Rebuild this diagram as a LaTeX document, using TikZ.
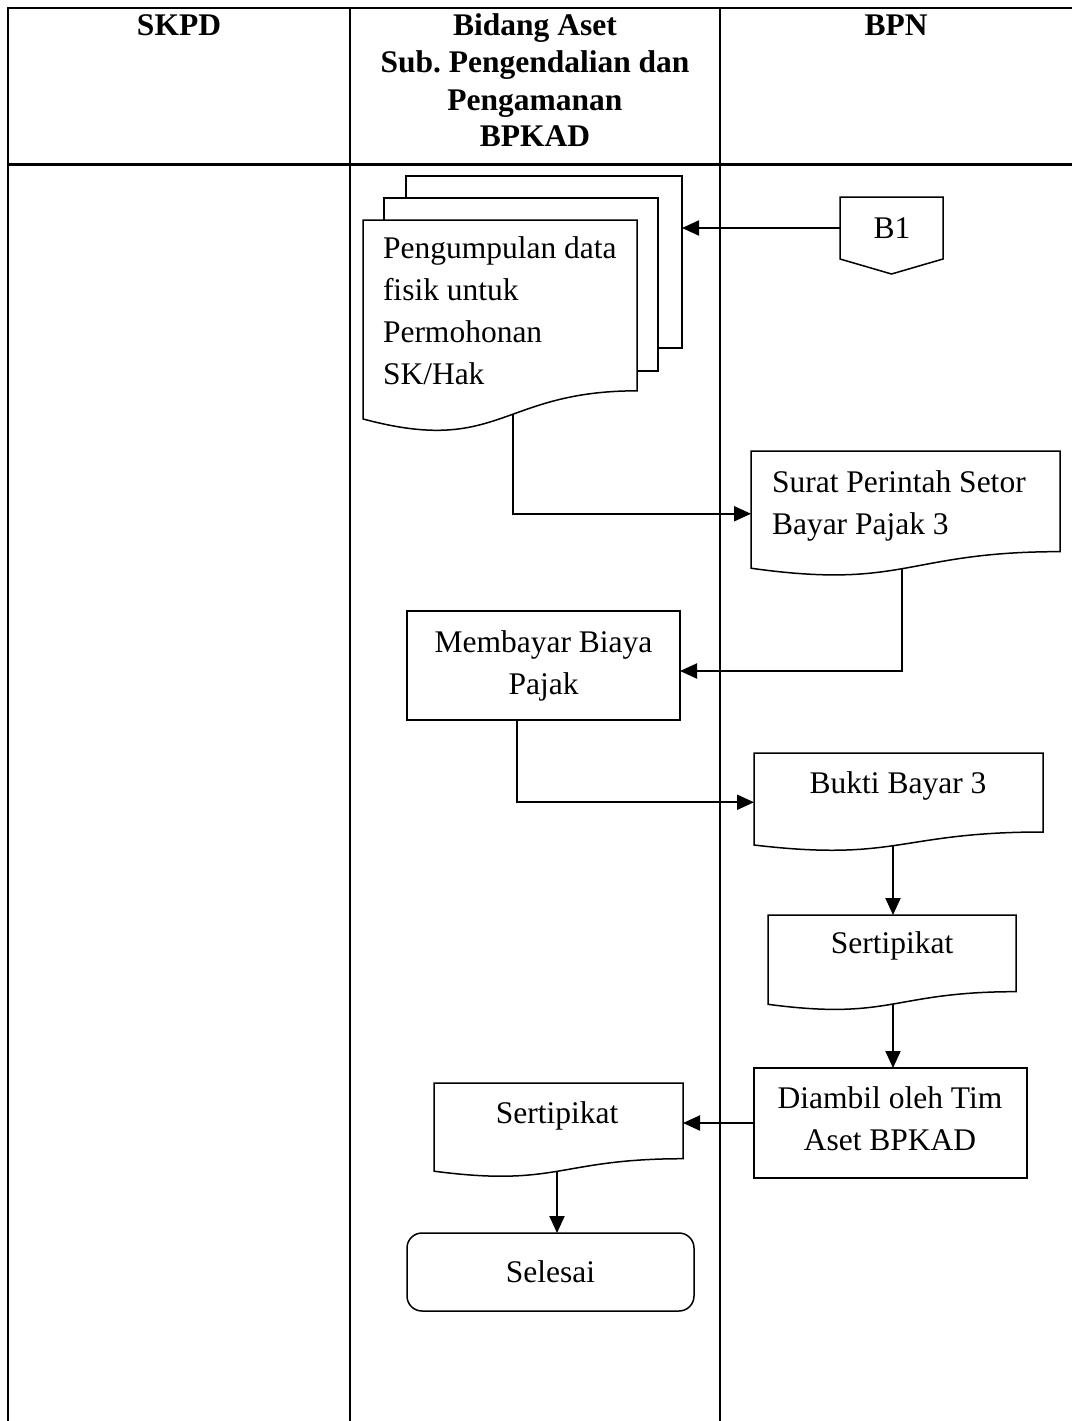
\documentclass[tikz,border=0pt]{standalone}
\usepackage{fontspec}
\setmainfont{Liberation Serif}
\usetikzlibrary{arrows.meta,calc}
\frenchspacing
\newcommand{\txtlines}[2]{\begin{tabular}[t]{@{}#1@{}}#2\end{tabular}}
\newcommand{\docoutline}[1]{%
  \draw[shapeline] (#1.north west) -- (#1.north east)
    -- ($(#1.north east)!0.802!(#1.south east)$)
    .. controls ($(#1.north)!0.802!(#1.south)$) and ($(#1.north)!1.1075!(#1.south)$)
    .. ($(#1.north west)!0.934!(#1.south west)$) -- cycle;}
\begin{document}
\begin{tikzpicture}[x=1pt,y=-1pt,
  geom/.style={draw=none,inner sep=0pt,outer sep=0pt,anchor=north west},
  shapeline/.style={draw=black,line width=1.5pt,fill=white},
  boxnode/.style={geom,shapeline},
  conn/.style={line width=2pt,-{Triangle[length=17pt,width=15pt]}},
  tableline/.style={line width=2pt},
  txt/.style={inner sep=0pt,outer sep=0pt,font=\fontsize{31.5}{42}\selectfont},
  head/.style={inner sep=0pt,outer sep=0pt,font=\fontsize{31.5}{37}\selectfont\bfseries}]
\useasboundingbox (0,0) rectangle (1072,1421);
% table
\draw[line width=2.5pt] (8,8) -- (1072,8);
\draw[line width=3pt] (8,164) -- (1072,164);
\draw[tableline] (8,7) -- (8,1421);
\draw[tableline] (350,8) -- (350,1421);
\draw[tableline] (720,8) -- (720,1421);
% header
\node[head,anchor=base] (h1) at (179,36) {SKPD};
\node[head,anchor=base] (h2) at (535,36) {\txtlines{c}{Bidang Aset\\Sub. Pengendalian dan\\Pengamanan\\BPKAD}};
\node[head,anchor=base] (h3) at (896,36) {BPN};
% geometry nodes
\node[geom,minimum width=276pt,minimum height=172pt] (back2) at (406,176) {};
\node[geom,minimum width=274pt,minimum height=173pt] (back1) at (384,198) {};
\node[geom,minimum width=274pt,minimum height=213pt] (front) at (363,220) {};
\node[geom,minimum width=103pt,minimum height=62pt] (b1) at (840,197) {};
\node[geom,minimum width=309pt,minimum height=125.5pt] (surat) at (751,451) {};
\node[boxnode,minimum width=273pt,minimum height=109pt] (membayar) at (407,611) {};
\node[geom,minimum width=289pt,minimum height=98.5pt] (bukti) at (754,753) {};
\node[geom,minimum width=248pt,minimum height=95.6pt] (sert1) at (768,915) {};
\node[boxnode,minimum width=273pt,minimum height=110pt] (diambil) at (754,1068) {};
\node[geom,minimum width=249pt,minimum height=94.4pt] (sert2) at (434,1083) {};
\node[boxnode,rounded corners=15pt,minimum width=287pt,minimum height=78pt,txt] (selesai) at (407,1233) {Selesai};
% connectors
\draw[conn] (b1.west) -- (b1.west -| back2.east);
\draw[conn] ([xshift=150pt]front.west) |- (surat.west);
\draw[conn] ([xshift=-3.5pt]surat.center) |- ([yshift=-5.5pt]membayar.east);
\draw[conn] ([xshift=-26.5pt]membayar.south) |- (bukti.west);
\draw[conn] ([xshift=-5.5pt]bukti.center) -- ([xshift=1pt]sert1.north);
\draw[conn] ([xshift=1pt]sert1.center) -- ([xshift=2.5pt]diambil.north);
\draw[conn] (diambil.west) -- (diambil.west -| sert2.east);
\draw[conn] ([xshift=-1.5pt]sert2.center) -- ([xshift=-1.5pt]sert2.center |- selesai.north);
% shapes
\draw[shapeline] (back2.north west) rectangle (back2.south east);
\draw[shapeline] (back1.north west) rectangle (back1.south east);
\docoutline{front}
\draw[shapeline] (b1.north west) -- (b1.north east) -- (b1.south east) -- ([yshift=-15pt]b1.south) -- (b1.south west) -- cycle;
\docoutline{surat}
\docoutline{bukti}
\docoutline{sert1}
\docoutline{sert2}
% texts
\node[txt,anchor=base west] (t-front) at (383,258) {\txtlines{l}{Pengumpulan data\\fisik untuk\\Permohonan\\SK/Hak}};
\node[txt,anchor=base] (t-b1) at (892,238) {B1};
\node[txt,anchor=base west] (t-surat) at (772,492) {\txtlines{l}{Surat Perintah Setor\\Bayar Pajak 3}};
\node[txt,anchor=base] (t-membayar) at (543.5,652) {\txtlines{c}{Membayar Biaya\\Pajak}};
\node[txt,anchor=base] (t-bukti) at (898,793) {Bukti Bayar 3};
\node[txt,anchor=base] (t-sert1) at (892,953) {Sertipikat};
\node[txt,anchor=base] (t-diambil) at (890,1108) {\txtlines{c}{Diambil oleh Tim\\Aset BPKAD}};
\node[txt,anchor=base] (t-sert2) at (557,1123) {Sertipikat};
\end{tikzpicture}
\end{document}
